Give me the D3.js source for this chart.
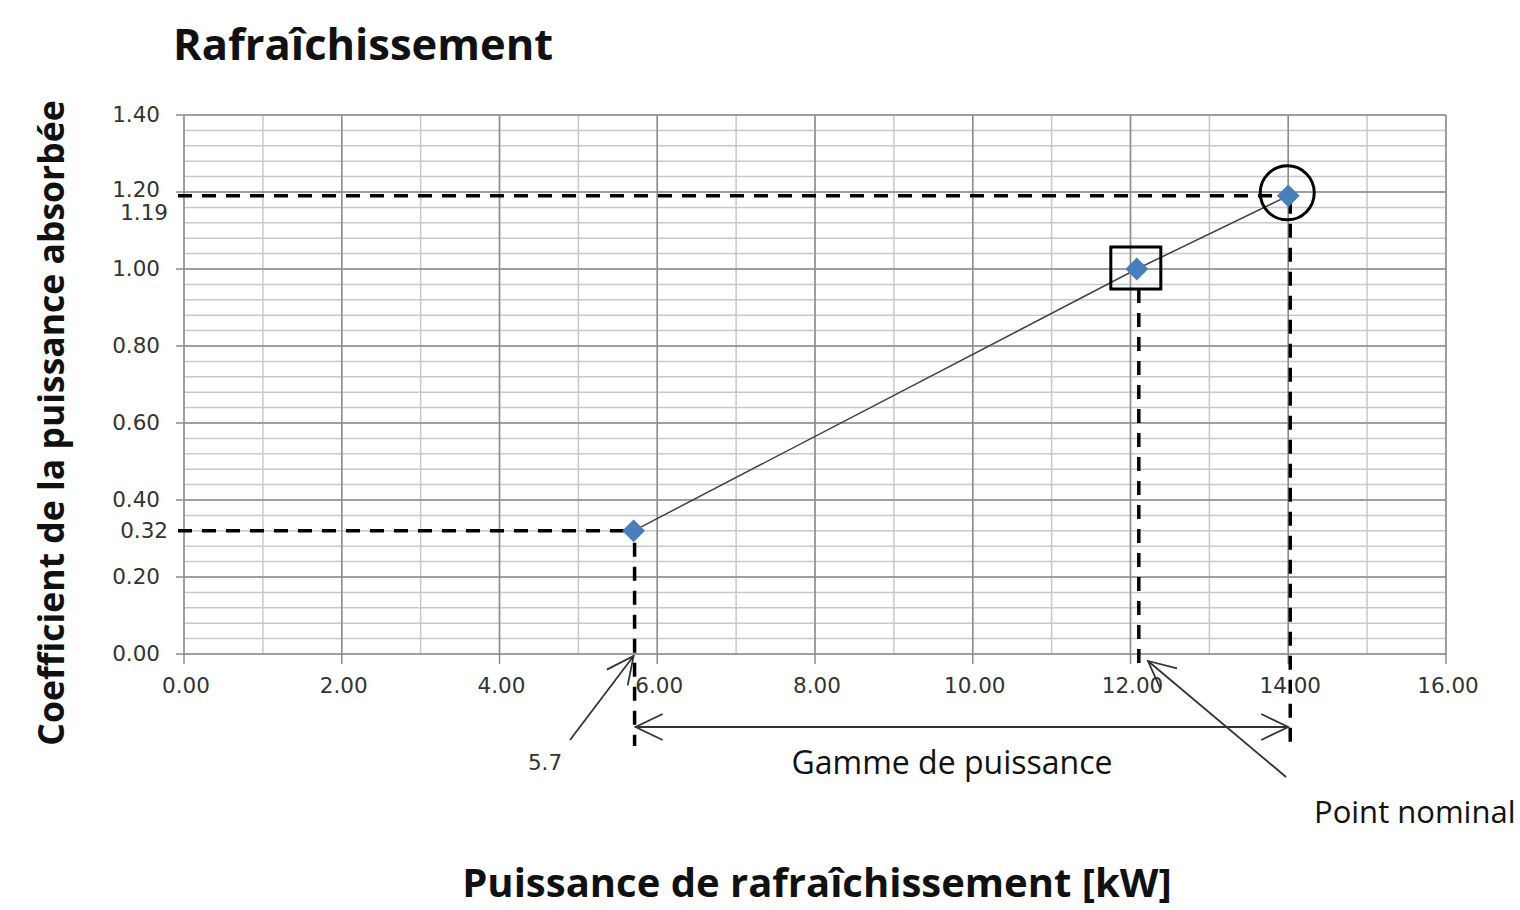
<!DOCTYPE html>
<html><head><meta charset="utf-8">
<script src="https://cdn.jsdelivr.net/npm/d3@7"></script>
<style>body{margin:0;background:#fff}</style>
</head><body>
<svg id="c" width="1520" height="910"></svg>
<script>
const xVals = [5.7, 12.08, 14.0];
const yVals = [0.32, 1.0, 1.19];
const xTicks = [0, 2, 4, 6, 8, 10, 12, 14, 16];
const yTicks = [0, 0.2, 0.4, 0.6, 0.8, 1.0, 1.2, 1.4];
const yMinor = d3.range(0, 1.4001, 0.04);
const xMinor = d3.range(0, 16.001, 1);
const extraYLabels = [0.32, 1.19];
const rangeLabel = "Gamme de puissance";
const nominalLabel = "Point nominal";
const minLabel = "5.7";

const svg = d3.select("#c");
const x = d3.scaleLinear().domain([0, 16]).range([184, 1446]);
const y = d3.scaleLinear().domain([0, 1.4]).range([654, 115]);
const tickFont = "DejaVu Sans, Verdana, sans-serif";
const tfs = 21.5;

// grid
svg.append("g").selectAll("line").data(yMinor).join("line")
  .attr("x1", x(0)).attr("x2", x(16)).attr("y1", d => y(d)).attr("y2", d => y(d))
  .attr("stroke", "#c8c8c8").attr("stroke-width", 1.5);
svg.append("g").selectAll("line").data(xMinor).join("line")
  .attr("y1", y(0)).attr("y2", y(1.4)).attr("x1", d => x(d)).attr("x2", d => x(d))
  .attr("stroke", "#c8c8c8").attr("stroke-width", 1.5);
svg.append("g").selectAll("line").data(yTicks).join("line")
  .attr("x1", x(0) - 8).attr("x2", x(16)).attr("y1", d => y(d)).attr("y2", d => y(d))
  .attr("stroke", "#8c8c8c").attr("stroke-width", 1.5);
svg.append("g").selectAll("line").data(xTicks).join("line")
  .attr("y1", y(0) + 10).attr("y2", y(1.4)).attr("x1", d => x(d)).attr("x2", d => x(d))
  .attr("stroke", "#8c8c8c").attr("stroke-width", 1.5);

// tick labels
svg.append("g").selectAll("text").data(yTicks).join("text")
  .attr("x", 160).attr("y", d => y(d) + (d === 1.2 ? 5 : 7)).attr("text-anchor", "end")
  .attr("font-family", tickFont).attr("font-size", tfs).attr("fill", "#333")
  .text(d => d3.format(".2f")(d));
svg.append("g").selectAll("text").data(xTicks).join("text")
  .attr("x", d => x(d) + 2).attr("y", 693).attr("text-anchor", "middle")
  .attr("font-family", tickFont).attr("font-size", tfs).attr("fill", "#333")
  .text(d => d3.format(".2f")(d));
svg.append("g").selectAll("text").data(extraYLabels).join("text")
  .attr("x", 168).attr("y", (d, i) => y(d) + (i === 1 ? 24 : 7)).attr("text-anchor", "end")
  .attr("font-family", tickFont).attr("font-size", tfs).attr("fill", "#333")
  .text(d => d3.format(".2f")(d));

// dashed guides
const dash = g => g.attr("stroke", "#000").attr("stroke-width", 3.5).attr("stroke-dasharray", "14,10").attr("fill", "none");
svg.append("line").attr("x1", 178).attr("x2", x(xVals[0])).attr("y1", y(yVals[0])).attr("y2", y(yVals[0])).call(dash);
svg.append("line").attr("x1", 178).attr("x2", x(xVals[2]) - 8).attr("y1", y(yVals[2])).attr("y2", y(yVals[2])).call(dash);
svg.append("line").attr("x1", x(xVals[0]) + 1).attr("x2", x(xVals[0]) + 1).attr("y1", y(yVals[0]) + 12).attr("y2", 746).call(dash);
svg.append("line").attr("x1", x(xVals[1]) + 2).attr("x2", x(xVals[1]) + 2).attr("y1", y(yVals[1]) + 20).attr("y2", 672).call(dash);
svg.append("line").attr("x1", x(xVals[2]) + 2).attr("x2", x(xVals[2]) + 2).attr("y1", y(yVals[2]) + 4).attr("y2", 746).call(dash);

// series line
const pts = xVals.map((v, i) => [x(v), y(yVals[i])]);
svg.append("path").attr("d", d3.line()(pts)).attr("stroke", "#404040").attr("stroke-width", 1.5).attr("fill", "none");
svg.append("g").selectAll("path").data(pts).join("path")
  .attr("d", d3.symbol(d3.symbolDiamond2, 330)())
  .attr("transform", d => `translate(${d[0]},${d[1]})`)
  .attr("fill", "#4a7ebb");

// annotations: square & circle
svg.append("rect").attr("x", x(xVals[1]) - 26).attr("y", y(yVals[1]) - 22).attr("width", 50).attr("height", 42)
  .attr("fill", "none").attr("stroke", "#000").attr("stroke-width", 3);
svg.append("circle").attr("cx", x(xVals[2]) - 1).attr("cy", y(yVals[2]) - 3).attr("r", 27)
  .attr("fill", "none").attr("stroke", "#000").attr("stroke-width", 3);

// arrows
const arrowLine = (x1, y1, x2, y2) => {
  svg.append("line").attr("x1", x1).attr("y1", y1).attr("x2", x2).attr("y2", y2)
    .attr("stroke", "#333").attr("stroke-width", 1.8);
};
const arrowHead = (x1, y1, x2, y2) => {
  const a = Math.atan2(y2 - y1, x2 - x1), L = 30, s = 0.45;
  const p1 = [x2 - L * Math.cos(a - s), y2 - L * Math.sin(a - s)];
  const p2 = [x2 - L * Math.cos(a + s), y2 - L * Math.sin(a + s)];
  svg.append("path").attr("d", `M${p1}L${x2},${y2}L${p2}`).attr("fill", "none")
    .attr("stroke", "#333").attr("stroke-width", 1.8);
};
arrowLine(570, 740, x(xVals[0]), 656); arrowHead(570, 740, x(xVals[0]), 656);
const ay = 727;
arrowLine(x(xVals[0]) + 2, ay, x(xVals[2]), ay);
arrowHead(x(xVals[2]), ay, x(xVals[0]) + 2, ay);
arrowHead(x(xVals[0]) + 2, ay, x(xVals[2]), ay);
arrowLine(1286, 777, 1148, 661); arrowHead(1286, 777, 1148, 661);

svg.append("text").attr("x", 545).attr("y", 770).attr("text-anchor", "middle")
  .attr("font-family", tickFont).attr("font-size", tfs).attr("fill", "#333").text(minLabel);
svg.append("text").attr("x", 952).attr("y", 774).attr("text-anchor", "middle")
  .attr("font-family", "Open Sans, sans-serif").attr("font-size", 32).attr("fill", "#111").text(rangeLabel);
svg.append("text").attr("x", 1314).attr("y", 823)
  .attr("font-family", "Open Sans, sans-serif").attr("font-size", 31).attr("fill", "#111").text(nominalLabel);

// titles
svg.append("text").attr("x", 173).attr("y", 60)
  .attr("font-family", "Open Sans, sans-serif").attr("font-weight", "bold").attr("font-size", 43.5)
  .attr("fill", "#111").text("Rafraîchissement");
svg.append("text").attr("x", 817).attr("y", 897).attr("text-anchor", "middle")
  .attr("font-family", "Open Sans, sans-serif").attr("font-weight", "bold").attr("font-size", 40)
  .attr("fill", "#111").text("Puissance de rafraîchissement [kW]");
svg.append("text").attr("transform", "translate(64,423) rotate(-90)").attr("text-anchor", "middle")
  .attr("font-family", "Open Sans, sans-serif").attr("font-weight", "bold").attr("font-size", 35.5)
  .attr("fill", "#111").text("Coefficient de la puissance absorbée");
</script>
</body></html>
